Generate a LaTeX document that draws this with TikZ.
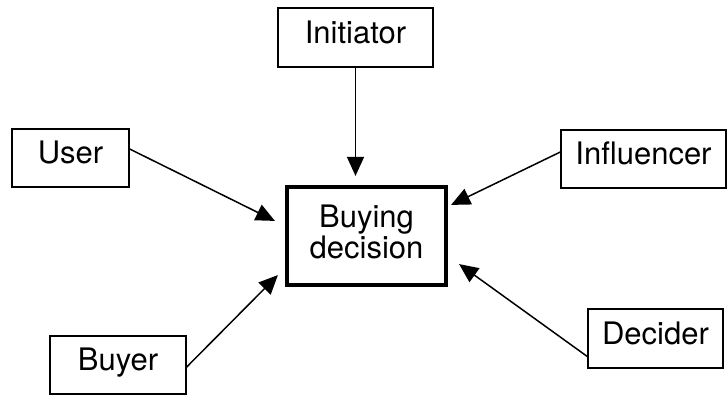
\documentclass[tikz,border=0pt]{standalone}
\usepackage{fontspec}
\setmainfont{TeX Gyre Heros}
\usetikzlibrary{arrows.meta}
\begin{document}
\begin{tikzpicture}[x=1pt,y=-1pt,
  rolebox/.style={draw, line width=1.4pt, inner sep=0pt, text height=22pt, text depth=11pt,
    font=\fontsize{31}{31}\selectfont},
  mainbox/.style={draw, line width=4.2pt, inner sep=0pt, align=center,
    font=\fontsize{31}{31}\selectfont},
  arr/.style={line width=1.5pt, -{Triangle[length=19pt,width=17pt]}}]
\useasboundingbox (0,0) rectangle (727,394);
\node[mainbox, minimum width=159pt, minimum height=98pt] (buy) at (366.5,236) {Buying\\decision\rule[-9pt]{0pt}{9pt}};
\node[rolebox, minimum width=155pt, minimum height=59pt] (ini) at (355.5,37.5) {Initiator};
\node[rolebox, minimum width=117pt, minimum height=58pt] (user) at (70.5,158) {User};
\node[rolebox, minimum width=165pt, minimum height=58pt] (infl) at (643.5,159) {Influencer};
\node[rolebox, minimum width=136pt, minimum height=58pt] (buyer) at (118,365) {Buyer};
\node[rolebox, minimum width=135pt, minimum height=59pt] (dec) at (655.5,338.5) {Decider};
\draw[arr] (ini.south) -- ([yshift=9pt]ini.south |- buy.north);
\draw[arr] ([yshift=9pt]user.east) -- ([xshift=-10pt,yshift=-36pt]buy.north west);
\draw[arr] ([yshift=-2pt]buyer.east) -- ([xshift=-7pt,yshift=12pt]buy.south west);
\draw[arr] ([yshift=7pt]infl.west) -- ([xshift=3pt,yshift=-20pt]buy.north east);
\draw[arr] ([yshift=-18pt]dec.west) -- ([xshift=11pt,yshift=23pt]buy.south east);
\end{tikzpicture}
\end{document}
